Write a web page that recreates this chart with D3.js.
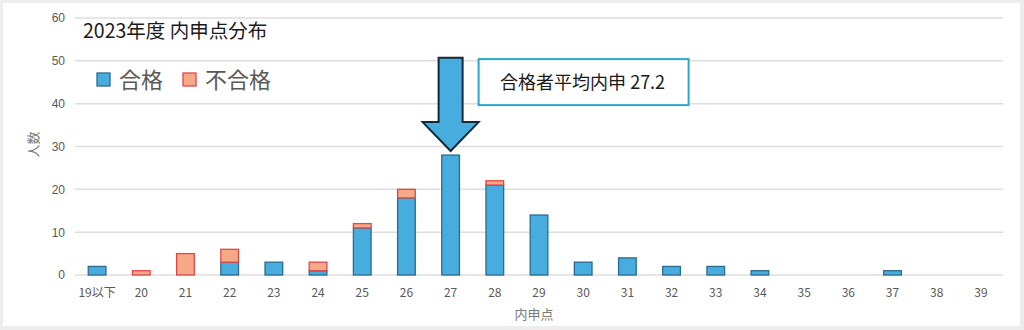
<!DOCTYPE html>
<html>
<head>
<meta charset="utf-8">
<script src="https://cdn.jsdelivr.net/npm/d3@7"></script>
<style>
  body { margin: 0; background: #fff; }
  text { font-family: "Noto Sans CJK JP", "Noto Sans", sans-serif; }
</style>
</head>
<body>
<div id="chart"></div>
<script>
// data
var categories = ["19以下","20","21","22","23","24","25","26","27","28","29","30","31","32","33","34","35","36","37","38","39"];
var passed =     [2, 0, 0, 3, 3, 1, 11, 18, 28, 21, 14, 3, 4, 2, 2, 1, 0, 0, 1, 0, 0];
var failed =     [0, 1, 5, 3, 0, 2, 1, 2, 0, 1, 0, 0, 0, 0, 0, 0, 0, 0, 0, 0, 0];
var yTicks = [0, 10, 20, 30, 40, 50, 60];
var seriesNames = ["合格", "不合格"];
var avgLabel = "合格者平均内申 27.2";
var avgCategory = "27";

var W = 1024, H = 330;
var margin = {top: 18, right: 21, bottom: 55, left: 75},
    width = W - margin.left - margin.right,
    height = H - margin.top - margin.bottom;

var blue = "#47addf", blueStroke = "#2c6a90",
    orange = "#f6a987", orangeStroke = "#e0474a";

var svg = d3.select("#chart").append("svg")
    .attr("width", W)
    .attr("height", H);

// outer frame
svg.append("rect").attr("width", W).attr("height", H).attr("fill", "#ededed");
svg.append("rect").attr("x", 3).attr("y", 3).attr("width", W - 7).attr("height", H - 7).attr("fill", "#fff");

var g = svg.append("g")
    .attr("transform", "translate(" + margin.left + "," + margin.top + ")");

var x = d3.scaleBand().domain(categories).range([0, width]).paddingInner(0.6).paddingOuter(0.3);
var y = d3.scaleLinear().domain([0, 60]).range([height, 0]);

// gridlines
g.selectAll(".grid")
    .data(yTicks)
  .enter().append("line")
    .attr("x1", 0).attr("x2", width)
    .attr("y1", function(d) { return y(d); })
    .attr("y2", function(d) { return y(d); })
    .attr("stroke", "#dedede")
    .attr("stroke-width", 1.5);

// y axis labels
var yAxis = g.append("g")
    .call(d3.axisLeft(y).tickValues(yTicks).tickSize(0).tickPadding(10));
yAxis.select(".domain").remove();
yAxis.selectAll("text")
    .attr("fill", "#595959")
    .style("font-size", "12px")
    .style("font-family", "'Liberation Sans', sans-serif");

// x axis labels
var xAxis = g.append("g")
    .attr("transform", "translate(0," + height + ")")
    .call(d3.axisBottom(x).tickSize(0).tickPadding(13));
xAxis.select(".domain").remove();
xAxis.selectAll("text")
    .attr("fill", "#595959")
    .style("font-size", "12px");

// stacked bars
var rows = categories.map(function(c, i) { return {cat: c, pass: passed[i], fail: failed[i]}; });

g.selectAll(".bar-pass")
    .data(rows.filter(function(d) { return d.pass > 0; }))
  .enter().append("rect")
    .attr("x", function(d) { return x(d.cat); })
    .attr("width", x.bandwidth())
    .attr("y", function(d) { return y(d.pass); })
    .attr("height", function(d) { return y(0) - y(d.pass); })
    .attr("fill", blue)
    .attr("stroke", blueStroke)
    .attr("stroke-width", 1.3);

g.selectAll(".bar-fail")
    .data(rows.filter(function(d) { return d.fail > 0; }))
  .enter().append("rect")
    .attr("x", function(d) { return x(d.cat); })
    .attr("width", x.bandwidth())
    .attr("y", function(d) { return y(d.pass + d.fail); })
    .attr("height", function(d) { return y(d.pass) - y(d.pass + d.fail); })
    .attr("fill", orange)
    .attr("stroke", orangeStroke)
    .attr("stroke-width", 1.3);

// axis title
g.append("text")
    .attr("x", width / 2 - 5)
    .attr("y", height + 44)
    .attr("text-anchor", "middle")
    .attr("fill", "#7a7a7a")
    .style("font-size", "13px")
    .text("内申点");

g.append("text")
    .attr("transform", "translate(-37," + (y(30) - 2) + ") rotate(-90)")
    .attr("text-anchor", "middle")
    .attr("fill", "#7a7a7a")
    .style("font-size", "13px")
    .text("人数");

// title
svg.append("text")
    .attr("x", 83)
    .attr("y", 38)
    .attr("fill", "#1a1a1a")
    .style("font-size", "19.5px")
    .text("2023年度 内申点分布");

// legend
var legend = svg.append("g").attr("transform", "translate(97,73)");
var legendX = [0, 86];
seriesNames.forEach(function(name, i) {
  legend.append("rect")
      .attr("x", legendX[i]).attr("y", 0)
      .attr("width", 13).attr("height", 13)
      .attr("fill", i === 0 ? blue : orange)
      .attr("stroke", i === 0 ? blueStroke : orangeStroke)
      .attr("stroke-width", 1.3);
  legend.append("text")
      .attr("x", legendX[i] + 22).attr("y", 15)
      .attr("fill", "#595959")
      .style("font-size", "22px")
      .text(name);
});

// arrow pointing at the average bar
var cx = x(avgCategory) + x.bandwidth() / 2;
var tipY = y(28) - 4;
var arrow = [
  [cx - 12, y(50.7)], [cx + 12, y(50.7)], [cx + 12, y(35.7)],
  [cx + 28, y(35.7)], [cx, tipY], [cx - 28, y(35.7)], [cx - 12, y(35.7)]
];
g.append("path")
    .attr("d", d3.line()(arrow) + "Z")
    .attr("fill", blue)
    .attr("stroke", "#14293a")
    .attr("stroke-width", 2)
    .attr("stroke-linejoin", "miter");

// callout box
var boxY = y(50.4);
g.append("rect")
    .attr("x", cx + 28)
    .attr("y", boxY)
    .attr("width", 210)
    .attr("height", 46)
    .attr("fill", "#fff")
    .attr("stroke", "#2aa7cb")
    .attr("stroke-width", 2);
g.append("text")
    .attr("x", cx + 132)
    .attr("y", boxY + 30)
    .attr("text-anchor", "middle")
    .attr("fill", "#1a1a1a")
    .style("font-size", "18px")
    .text(avgLabel);
</script>
</body>
</html>
